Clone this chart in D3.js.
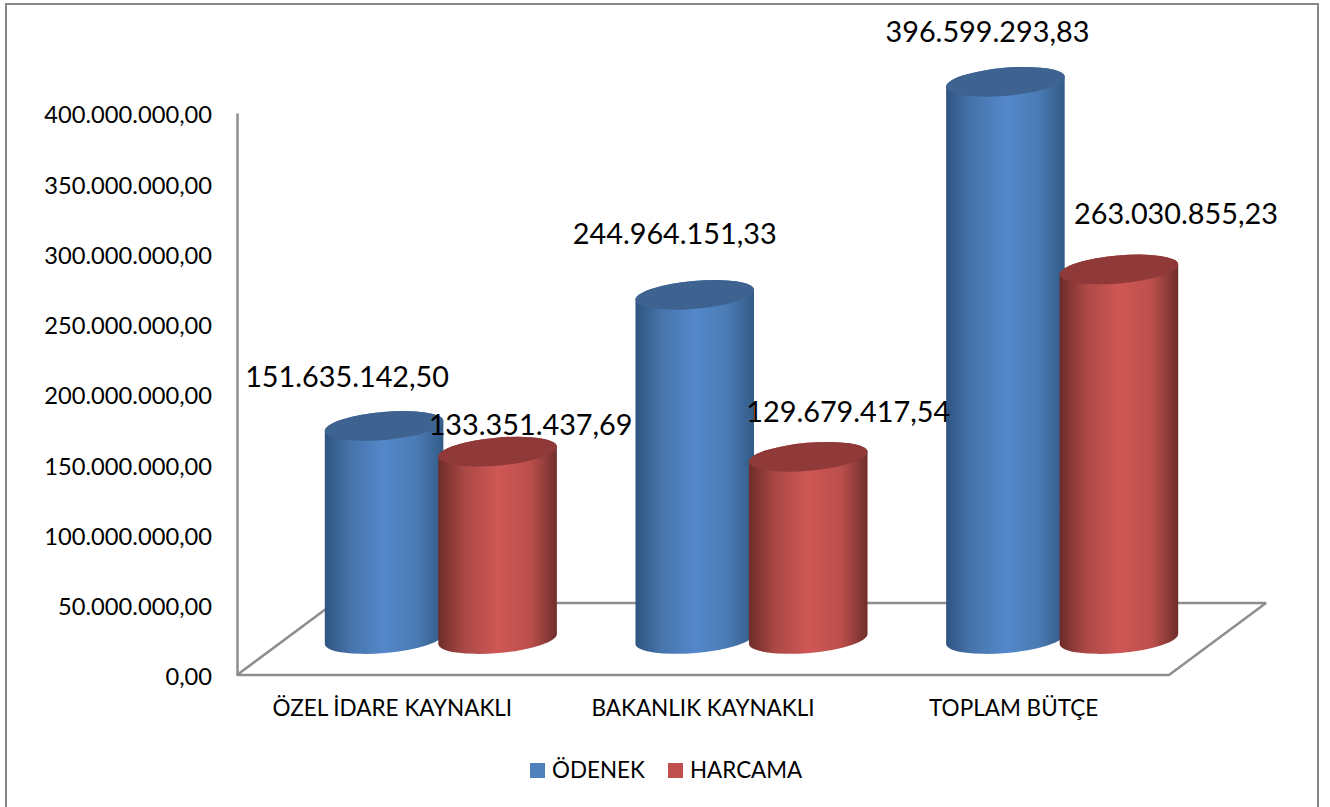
<!DOCTYPE html>
<html>
<head>
<meta charset="utf-8">
<script src="https://cdn.jsdelivr.net/npm/d3@7"></script>
<style>
  body { margin: 0; background: #fff; }
  text { font-family: Lato, "Open Sans", sans-serif; fill: #000; }
</style>
</head>
<body>
<svg></svg>
<script>
const categories = ["ÖZEL İDARE KAYNAKLI", "BAKANLIK KAYNAKLI", "TOPLAM BÜTÇE"];
const seriesNames = ["ÖDENEK", "HARCAMA"];
const odenek = [151635142.50, 244964151.33, 396599293.83];
const harcama = [133351437.69, 129679417.54, 263030855.23];
const yTicks = [0, 50000000, 100000000, 150000000, 200000000, 250000000, 300000000, 350000000, 400000000];

const width = 1330;
const height = 807;
const margin = { top: 113, right: 161, bottom: 132, left: 237 };
const depth = { x: 97, y: 72 };
const rx = 59.5, ry = 14, tilt = -5;

// hand placed like the data labels in the original, [dx, dy] from top of each cylinder
const labelNudge = {
  "ÖDENEK": [[-37, -49], [-20, -61], [-18, -50]],
  "HARCAMA": [[33, -27], [40, -45], [57, -56]]
};

const trLocale = d3.formatLocale({ decimal: ",", thousands: ".", grouping: [3], currency: ["", " TL"] });
const fmt = trLocale.format(",.2f");

const x0 = d3.scaleBand()
    .domain(categories)
    .range([margin.left, width - margin.right]);

const x1 = d3.scaleBand()
    .domain(seriesNames)
    .range([-113.5, 113.5]);

const y = d3.scaleLinear()
    .domain([0, 400000000])
    .range([height - margin.bottom, margin.top]);

const colors = d3.scaleOrdinal().domain(seriesNames).range(["#4f81bd", "#c0504d"]);
const topColors = d3.scaleOrdinal().domain(seriesNames).range(["#3e6390", "#8f3a38"]);
const ramps = {
  "ÖDENEK": ["#2f5481", "#4674ab", "#5488cb", "#4a7bb4", "#325a86"],
  "HARCAMA": ["#6e2c2a", "#aa4845", "#cf5754", "#bb4f4b", "#6f2e2c"]
};

const svg = d3.select("svg")
    .attr("width", width)
    .attr("height", height)
    .style("display", "block");

const defs = svg.append("defs");
seriesNames.forEach((name, i) => {
  const grad = defs.append("linearGradient").attr("id", "cyl" + i);
  ramps[name].forEach((c, j) => {
    grad.append("stop").attr("offset", [0, 0.22, 0.5, 0.78, 1][j]).attr("stop-color", c);
  });
});

// the frame runs off the bottom of the picture in the original
svg.append("rect")
    .attr("x", 6).attr("y", 4)
    .attr("width", 1312).attr("height", 820)
    .attr("fill", "#fff")
    .attr("stroke", "#868686")
    .attr("stroke-width", 2);

// floor of the 3d box
const bottom = y(0);
const left = margin.left, right = width - margin.right;
svg.append("path")
    .attr("d", d3.line()([
      [left, bottom], [right, bottom],
      [right + depth.x, bottom - depth.y], [left + depth.x, bottom - depth.y]
    ]) + "Z")
    .attr("fill", "none")
    .attr("stroke", "#8e8e8e")
    .attr("stroke-width", 2.5)
    .attr("stroke-linejoin", "bevel");

const yAxis = svg.append("g")
    .attr("transform", `translate(${margin.left},0)`)
    .call(d3.axisLeft(y).tickValues(yTicks).tickSize(0).tickPadding(25).tickFormat(fmt));
yAxis.select(".domain").attr("stroke", "#8e8e8e").attr("stroke-width", 2.5);
yAxis.selectAll("text").attr("dy", "0.42em").style("font-size", "23.7px");

const xAxis = svg.append("g")
    .attr("transform", `translate(0,${bottom})`)
    .call(d3.axisBottom(x0).tickSize(0).tickPadding(25));
xAxis.select(".domain").remove();
xAxis.selectAll("text").style("font-size", "22.5px");

const rad = tilt * Math.PI / 180;
const ex = rx * Math.cos(rad), ey = rx * Math.sin(rad);

function cylinderBody(cx, yTop, yBot) {
  return `M${cx - ex},${yTop - ey}L${cx - ex},${yBot - ey}` +
    `A${rx},${ry} ${tilt} 0 0 ${cx + ex},${yBot + ey}` +
    `L${cx + ex},${yTop + ey}` +
    `A${rx},${ry} ${tilt} 0 0 ${cx - ex},${yTop - ey}Z`;
}

const values = { "ÖDENEK": odenek, "HARCAMA": harcama };

categories.forEach((cat, ci) => {
  const base = x0(cat) + x0.bandwidth() / 2 + depth.x / 2;
  seriesNames.forEach((name, si) => {
    const cx = base + x1(name) + x1.bandwidth() / 2;
    const yTop = y(values[name][ci]) - depth.y / 2;
    const yBot = bottom - depth.y / 2;
    svg.append("path")
        .attr("d", cylinderBody(cx, yTop, yBot))
        .attr("fill", `url(#cyl${si})`);
    svg.append("ellipse")
        .attr("rx", rx).attr("ry", ry)
        .attr("transform", `translate(${cx},${yTop}) rotate(${tilt})`)
        .attr("fill", topColors(name));
  });
});

// labels go last, they sit over the cylinders
categories.forEach((cat, ci) => {
  const base = x0(cat) + x0.bandwidth() / 2 + depth.x / 2;
  seriesNames.forEach(name => {
    const cx = base + x1(name) + x1.bandwidth() / 2;
    const yTop = y(values[name][ci]) - depth.y / 2;
    const [dx, dy] = labelNudge[name][ci];
    svg.append("text")
        .attr("x", cx + dx)
        .attr("y", yTop + dy)
        .attr("dy", "0.35em")
        .attr("text-anchor", "middle")
        .style("font-size", "28.8px")
        .text(fmt(values[name][ci]));
  });
});

const legendX = d3.scaleOrdinal().domain(seriesNames).range([530, 668]);
const legend = svg.append("g").selectAll("g")
    .data(seriesNames)
    .enter().append("g")
    .attr("transform", d => `translate(${legendX(d)},763)`);
legend.append("rect")
    .attr("width", 15).attr("height", 15)
    .attr("fill", d => colors(d));
legend.append("text")
    .attr("x", 22).attr("y", 15)
    .style("font-size", "22.4px")
    .text(d => d);
</script>
</body>
</html>
